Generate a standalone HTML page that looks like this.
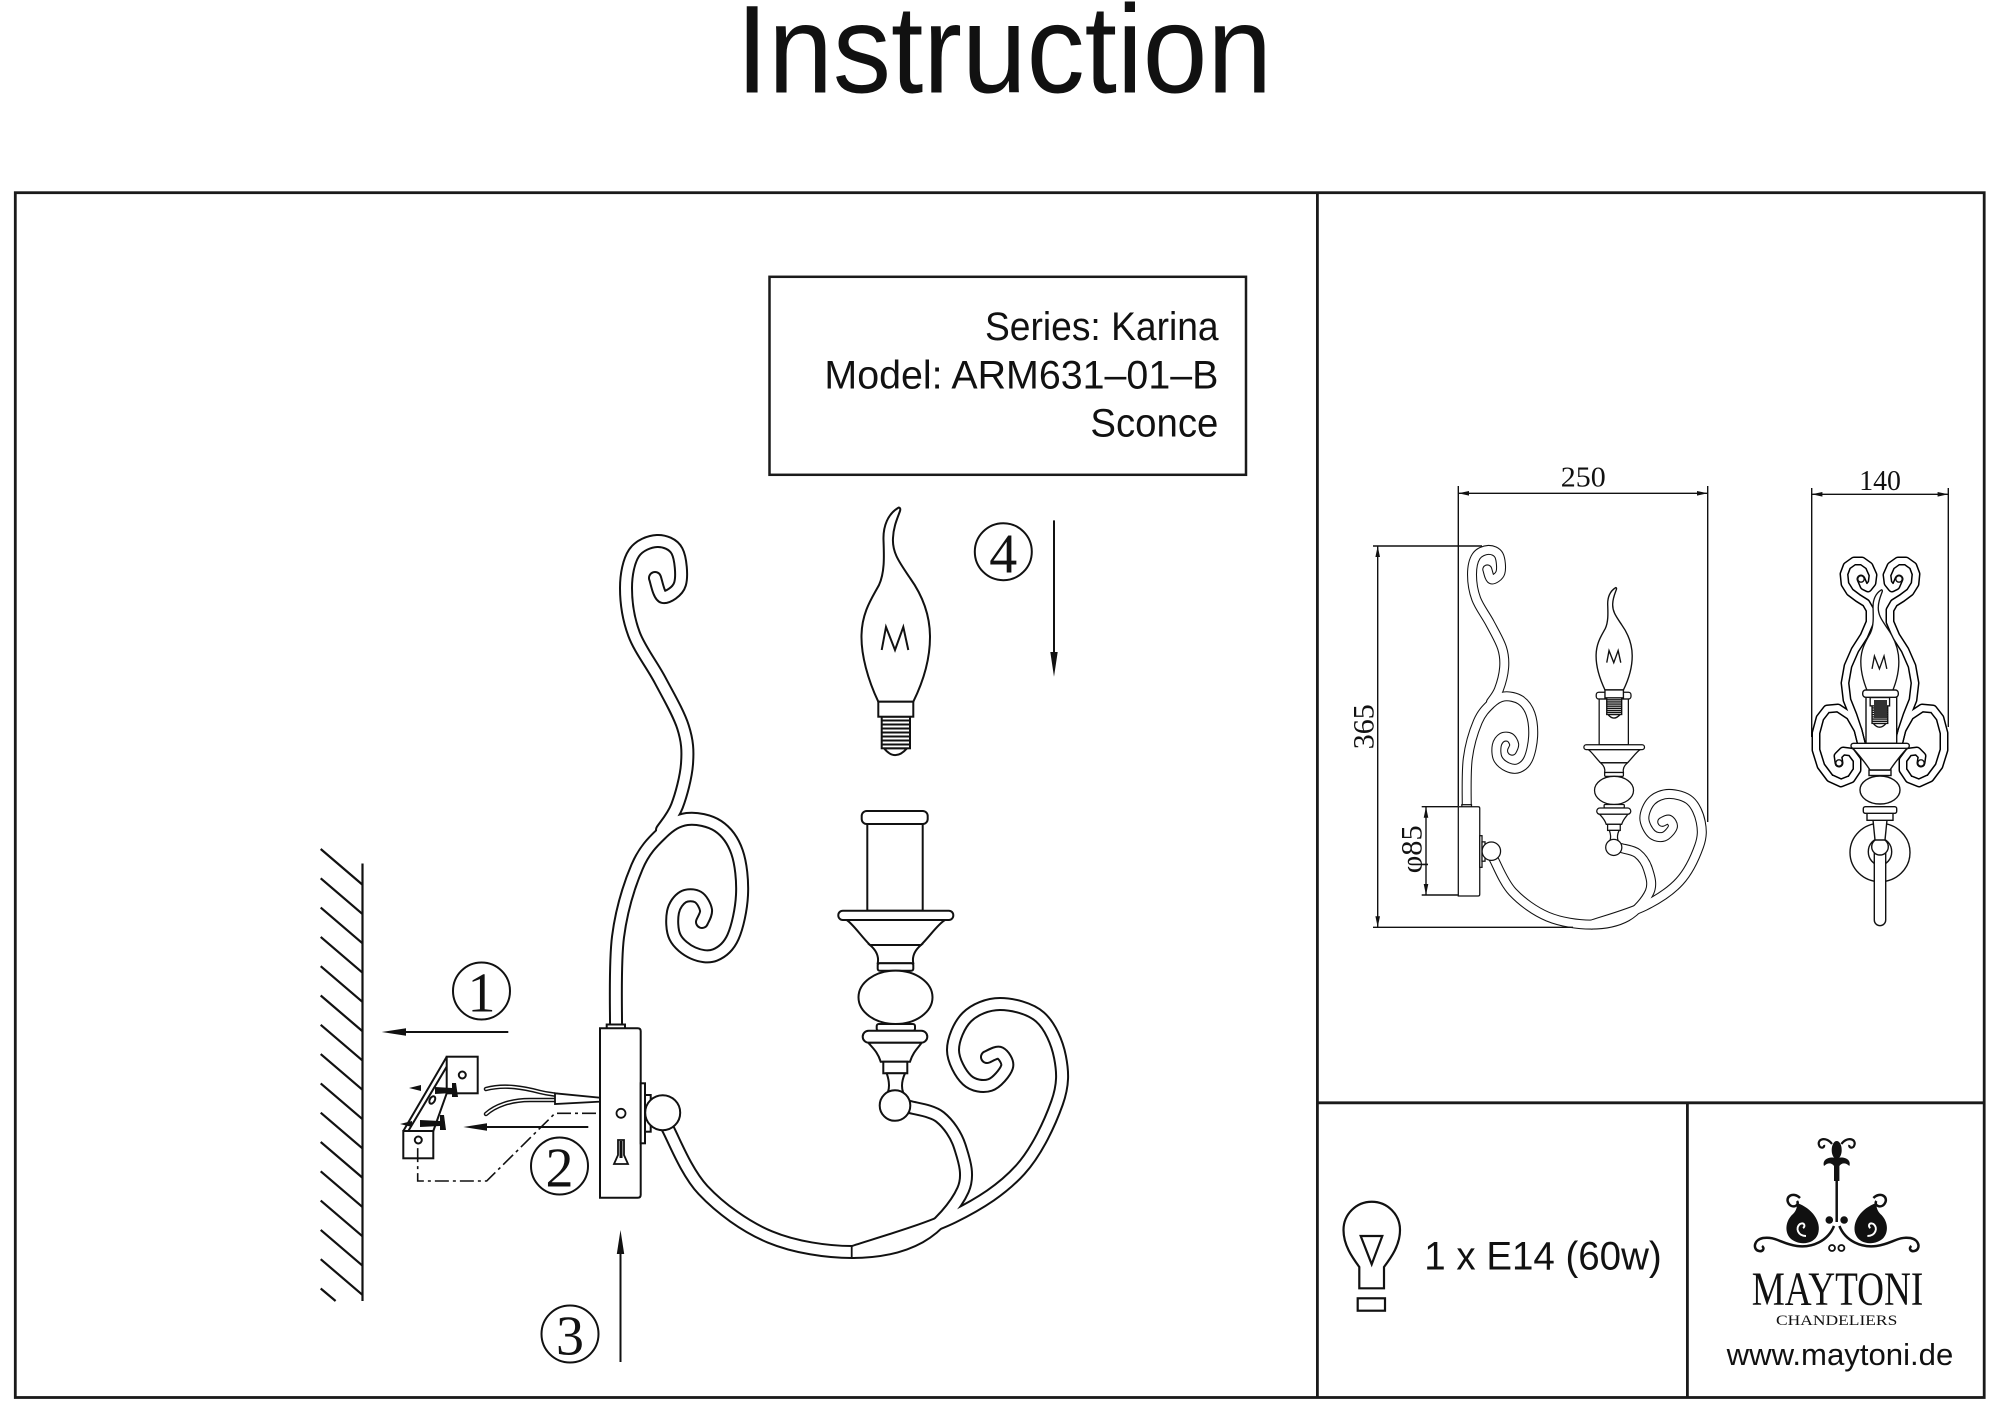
<!DOCTYPE html>
<html><head><meta charset="utf-8"><style>
html,body{margin:0;padding:0;background:#fff;}
svg{display:block;}
text{font-family:"Liberation Sans",Arial,sans-serif;fill:#111;}
.sf{font-family:"Liberation Serif","Times New Roman",serif;}
</style></head><body>
<svg width="2000" height="1414" viewBox="0 0 2000 1414" xmlns="http://www.w3.org/2000/svg">
<defs>
<path id="pA" d="M655,578 C656.3,581.2 658.8,596 663,597 C667.2,598 677.7,591.7 680,584 C682.3,576.3 680.8,558.2 677,551 C673.2,543.8 664.2,540.7 657,541 C649.8,541.3 639.2,545.2 634,553 C628.8,560.8 626,574.5 626,588 C626,601.5 628.3,618.7 634,634 C639.7,649.3 651.8,664.5 660,680 C668.2,695.5 678.5,713 683,727 C687.5,741 688,750.8 687,764 C686,777.2 681.2,795 677,806 C672.8,817 664.5,826 662,830"/>
<path id="pB" d="M616,1030 C616.3,1014.5 614.5,964.2 618,937 C621.5,909.8 629.7,884.3 637,867 C644.3,849.7 653.7,841 662,833 C670.3,825 677.7,820.2 687,819 C696.3,817.8 709.7,820.5 718,826 C726.3,831.5 733,840.5 737,852 C741,863.5 742.7,880.8 742,895 C741.3,909.2 737.5,927 733,937 C728.5,947 721.7,952.3 715,955 C708.3,957.7 699.7,956 693,953 C686.3,950 678.3,943.8 675,937 C671.7,930.2 671.7,918.7 673,912 C674.3,905.3 678.8,899.5 683,897 C687.2,894.5 694.2,894.8 698,897 C701.8,899.2 705.3,905.8 706,910 C706.7,914.2 702.7,920 702,922"/>
<path id="pC" d="M667,1127 C673,1137.5 685.8,1171.7 703,1190 C720.2,1208.3 745.2,1226.7 770,1237 C794.8,1247.3 827,1252 852,1252 C877,1252 901.5,1247.3 920,1237 C938.5,1226.7 956.3,1205 963,1190 C969.7,1175 963.8,1159.2 960,1147 C956.2,1134.8 948.3,1123.7 940,1117 C931.7,1110.3 915,1108.7 910,1107"/>
<path id="pD" d="M853,1252 C869.7,1246.2 925.2,1230.7 953,1217 C980.8,1203.3 1002.7,1189 1020,1170 C1037.3,1151 1050.3,1121.8 1057,1103 C1063.7,1084.2 1062.8,1071.3 1060,1057 C1057.2,1042.7 1050,1025.8 1040,1017 C1030,1008.2 1012.2,1004 1000,1004 C987.8,1004 974.8,1009.3 967,1017 C959.2,1024.7 953,1039.5 953,1050 C953,1060.5 960.8,1074.2 967,1080 C973.2,1085.8 983.3,1087.2 990,1085 C996.7,1082.8 1005.3,1072.3 1007,1067 C1008.7,1061.7 1003.3,1054.7 1000,1053 C996.7,1051.3 989.2,1056.3 987,1057"/>
<g id="canopy" fill="#fff">
<rect x="606.7" y="1024.5" width="18.3" height="4.5"/>
<path d="M600,1028.3 H637.7 Q640.7,1028.3 640.7,1031.3 V1194.7 Q640.7,1197.7 637.7,1197.7 H600 Z"/>
<rect x="640.7" y="1083.3" width="4.3" height="60"/>
<rect x="645" y="1095" width="5.7" height="36.7"/>
<circle cx="662.7" cy="1112.7" r="17.5"/>
</g>
<g id="candle" fill="#fff">
<rect x="861.7" y="811" width="66" height="13" rx="5"/>
<rect x="867.3" y="824" width="55.4" height="86.7"/>
<path d="M846.7,920 L945,920 C938,924 930,936 921,945 L870,945 C861,936 853,924 846.7,920 Z"/>
<rect x="838.3" y="910.7" width="115" height="9.3" rx="4.5"/>
<path d="M870,945 L921,945 C914,951 912,957 913.3,963.3 L877.7,963.3 C879,957 877,951 870,945 Z"/>
<rect x="877.7" y="963.3" width="35.6" height="7.4" rx="2"/>
<ellipse cx="895.5" cy="997.3" rx="37" ry="26.7"/>
<rect x="876.7" y="1024" width="38.3" height="6.7" rx="2"/>
<rect x="862.7" y="1030.7" width="64.6" height="12" rx="6"/>
<path d="M868.3,1042.7 L921.7,1042.7 C918,1048 913,1052 910,1061.7 L880.7,1061.7 C877.7,1052 872.7,1048 868.3,1042.7 Z"/>
<rect x="883.3" y="1061.7" width="24" height="11.6"/>
<path d="M886.7,1073.3 L905,1073.3 C902,1080 901,1086 903,1092 L888,1092 C890,1086 889,1080 886.7,1073.3 Z"/>
<circle cx="895" cy="1105.5" r="15.3"/>
</g>
<g id="bulb" fill="#fff">
<path d="M898,508 C888,514 883,526 883.5,540 C884,555 885,572 879,585 C872,598 862,612 861.5,635 C861,655 868,680 878.3,701.7 L913.3,701.7 C923,682 930,660 930,637 C930,612 920,592 910,578 C900,563 892,553 893,538 C893.5,526 898,517 900,511 C901,508 899,507 898,508 Z"/>
<polyline fill="none" points="881.7,650 886,627 895,650 903.3,627 908.3,650"/>
<path d="M884,748.3 Q895,762 907,748.3 Z"/>
<rect x="881.7" y="716.7" width="28.3" height="31.6"/>
<path fill="none" d="M881.7,720.5H910M881.7,724.5H910M881.7,728.5H910M881.7,732.5H910M881.7,736.5H910M881.7,740.5H910M881.7,744.5H910"/>
<rect x="878.3" y="701.7" width="35" height="15"/>
</g>
<g id="lyre" fill="none" stroke-linecap="round" stroke-linejoin="round">
<g stroke="#000" stroke-width="9">
<polyline points="1861,579 1864,586 1868,588 1872,583 1873,575 1869,566 1862,561 1854,561 1847,566 1844,574 1845,584 1850,592 1858,598 1866,603 1870,610 1870,622 1864,636 1855,650 1848,666 1845,683 1847,700 1853,715 1858,730 1862,746"/>
<polyline points="1862,746 1858,730 1850,716 1838,708 1827,709 1820,718 1816,733 1816,750 1821,766 1830,778 1841,783 1851,779 1857,770 1857,760 1851,752 1843,751 1838,756 1839,763"/>
</g>
<g stroke="#fff" stroke-width="6">
<polyline points="1861,579 1864,586 1868,588 1872,583 1873,575 1869,566 1862,561 1854,561 1847,566 1844,574 1845,584 1850,592 1858,598 1866,603 1870,610 1870,622 1864,636 1855,650 1848,666 1845,683 1847,700 1853,715 1858,730 1862,746"/>
<polyline points="1862,746 1858,730 1850,716 1838,708 1827,709 1820,718 1816,733 1816,750 1821,766 1830,778 1841,783 1851,779 1857,770 1857,760 1851,752 1843,751 1838,756 1839,763"/>
</g>
</g>
<g id="paisley">
<path fill="none" stroke="#111" stroke-width="2.5" d="M1800,1198 C1793,1191 1784,1197 1789,1204 C1793,1209 1800,1205 1797,1201"/>
<path fill="#111" d="M1797,1203 C1812,1208 1822,1222 1818,1234 C1814,1245 1798,1246 1790,1238 C1784,1231 1786,1220 1793,1214 C1797,1210 1797,1206 1797,1203 Z"/>
<path fill="none" stroke="#fff" stroke-width="2" d="M1806,1236 C1798,1236 1795,1228 1800,1224 C1804,1222 1806,1226 1803,1228"/>
<path fill="none" stroke="#111" stroke-width="2.5" d="M1834,1226 C1828,1241 1812,1248 1797,1246 C1782,1244 1775,1236 1763,1238 C1753,1240 1753,1250 1759,1251 C1763,1252 1765,1248 1762,1246"/>
<path fill="none" stroke="#111" stroke-width="2.2" d="M1832,1144 C1826,1136 1817,1139 1819,1145 C1820,1149 1825,1148 1824,1145"/>
<circle cx="1829.3" cy="1220" r="3.8" fill="#111"/>
<circle cx="1832" cy="1248" r="3" fill="none" stroke="#111" stroke-width="1.8"/>
</g>
</defs>

<rect width="2000" height="1414" fill="#fff"/>

<!-- Title -->
<text x="736" y="92.5" font-size="125" textLength="536" lengthAdjust="spacingAndGlyphs">Instruction</text>

<!-- Frame -->
<g fill="none" stroke="#1a1a1a" stroke-width="2.8">
<rect x="15.3" y="192.7" width="1968.9" height="1204.8"/>
<line x1="1317.4" y1="192.7" x2="1317.4" y2="1397.5"/>
<line x1="1317.4" y1="1102.8" x2="1984.2" y2="1102.8"/>
<line x1="1687.4" y1="1102.8" x2="1687.4" y2="1397.5"/>
</g>

<!-- Series box -->
<rect x="769.5" y="276.8" width="476.5" height="198" fill="none" stroke="#1a1a1a" stroke-width="2.5"/>
<text x="985" y="340" font-size="39.5" textLength="233.6" lengthAdjust="spacingAndGlyphs">Series: Karina</text>
<text x="824.4" y="388.3" font-size="39.5" textLength="394" lengthAdjust="spacingAndGlyphs">Model: ARM631–01–B</text>
<text x="1090.4" y="436.7" font-size="39.5" textLength="128" lengthAdjust="spacingAndGlyphs">Sconce</text>

<!-- Wall -->
<g stroke="#111" stroke-width="2.2" fill="none">
<line x1="362.5" y1="863.5" x2="362.5" y2="1301"/>
<line x1="320.7" y1="849" x2="362.2" y2="884.5"/>
<line x1="320.7" y1="878.3" x2="362.2" y2="913.8"/>
<line x1="320.7" y1="907.6" x2="362.2" y2="943.1"/>
<line x1="320.7" y1="936.9" x2="362.2" y2="972.4"/>
<line x1="320.7" y1="966.2" x2="362.2" y2="1001.7"/>
<line x1="320.7" y1="995.5" x2="362.2" y2="1031"/>
<line x1="320.7" y1="1024.8" x2="362.2" y2="1060.3"/>
<line x1="320.7" y1="1054.1" x2="362.2" y2="1089.6"/>
<line x1="320.7" y1="1083.4" x2="362.2" y2="1118.9"/>
<line x1="320.7" y1="1112.7" x2="362.2" y2="1148.2"/>
<line x1="320.7" y1="1142" x2="362.2" y2="1177.5"/>
<line x1="320.7" y1="1171.3" x2="362.2" y2="1206.8"/>
<line x1="320.7" y1="1200.6" x2="362.2" y2="1236.1"/>
<line x1="320.7" y1="1229.9" x2="362.2" y2="1265.4"/>
<line x1="320.7" y1="1259.2" x2="362.2" y2="1294.7"/>
<line x1="320.7" y1="1288.5" x2="335.6" y2="1301"/>
</g>

<!-- Arrows and step numbers -->
<g stroke="#111" stroke-width="2" fill="none">
<line x1="406" y1="1032" x2="508.3" y2="1032"/>
<line x1="487" y1="1127" x2="588.3" y2="1127"/>
<line x1="620.5" y1="1254" x2="620.5" y2="1362"/>
<line x1="1054" y1="520.4" x2="1054" y2="652"/>
<circle cx="481.5" cy="991" r="28.5"/>
<circle cx="559.5" cy="1166" r="28.5"/>
<circle cx="570" cy="1334" r="28.5"/>
<circle cx="1003.3" cy="551.7" r="28.5"/>
</g>
<g fill="#111">
<polygon points="381.7,1032 406,1028.3 406,1035.7"/>
<polygon points="463.3,1127 487,1123.3 487,1130.7"/>
<polygon points="620.5,1230 616.8,1254 624.2,1254"/>
<polygon points="1054,676.7 1050.3,652 1057.7,652"/>
</g>
<g class="sf" font-size="56" text-anchor="middle">
<text class="sf" x="481.5" y="1011.7">1</text>
<text class="sf" x="559.5" y="1186.7">2</text>
<text class="sf" x="570" y="1354.7">3</text>
<text class="sf" x="1003.3" y="572.4">4</text>
</g>

<!-- Bracket -->
<g stroke="#111" stroke-width="2" fill="#fff">
<line x1="446.7" y1="1056.7" x2="403.3" y2="1131"/>
<line x1="451.7" y1="1058.3" x2="408.3" y2="1131"/>
<line x1="446.7" y1="1093.3" x2="433.3" y2="1131"/>
<rect x="446.7" y="1056.7" width="31" height="36.6"/>
<rect x="403.3" y="1131" width="30" height="27.3"/>
<circle cx="462.3" cy="1075" r="3.5"/>
<circle cx="418.3" cy="1140" r="3.5"/>
<ellipse cx="432.3" cy="1100" rx="2.5" ry="4" transform="rotate(30 432.3 1100)"/>
</g>
<g fill="#111">
<path d="M435,1087 L452,1088 L452,1093 L435,1094 Z"/>
<path d="M452,1083 L456,1083 L458,1097 L452,1097 Z"/>
<path d="M420,1120 L440,1121 L440,1126 L420,1127 Z"/>
<path d="M440,1115 L444,1115 L446,1130 L440,1130 Z"/>
<polygon points="409,1088 421,1085 421,1091"/>
<polygon points="400,1124 412,1121 412,1127"/>
</g>
<!-- dash-dot guide -->
<path d="M621,1113.3 H555 L486.7,1181 H417.7 V1144" fill="none" stroke="#111" stroke-width="1.6" stroke-dasharray="14 4 3 4"/>
<path d="M621,1118 V1140" fill="none" stroke="#111" stroke-width="1.6" stroke-dasharray="6 3 2 3"/>
<!-- wires -->
<g fill="none" stroke-linecap="round">
<path d="M486,1089 C505,1084 525,1088 540,1092 C548,1094 552,1094 557,1095" stroke="#111" stroke-width="4.5"/>
<path d="M486,1114 C495,1106 510,1100 530,1100 C542,1100 550,1100 557,1100" stroke="#111" stroke-width="4.5"/>
<path d="M486,1089 C505,1084 525,1088 540,1092 C548,1094 552,1094 557,1095" stroke="#fff" stroke-width="1.6"/>
<path d="M486,1114 C495,1106 510,1100 530,1100 C542,1100 550,1100 557,1100" stroke="#fff" stroke-width="1.6"/>
</g>
<path d="M555,1093.3 L600,1097.7 L600,1101.7 L555,1104 Z" fill="#fff" stroke="#111" stroke-width="1.8"/>

<!-- Main sconce tubes -->
<g fill="none" stroke-linecap="round" stroke-linejoin="round">
<g stroke="#111" stroke-width="14"><use href="#pA"/><use href="#pB"/><use href="#pC"/><use href="#pD"/></g>
<g stroke="#fff" stroke-width="10"><use href="#pA"/><use href="#pB"/><use href="#pC"/><use href="#pD"/></g>
</g>
<line x1="851.7" y1="1245.5" x2="851.7" y2="1258.5" stroke="#111" stroke-width="1.8"/>
<use href="#canopy" stroke="#111" stroke-width="2"/>
<circle cx="621" cy="1113.3" r="4.5" fill="#fff" stroke="#111" stroke-width="1.8"/>
<path d="M618,1140 L624,1140 L624,1155 L628,1164 L614,1164 L618,1155 Z" fill="#fff" stroke="#111" stroke-width="1.8"/>
<path d="M621,1141 V1158" stroke="#111" stroke-width="3"/>
<use href="#candle" stroke="#111" stroke-width="2"/>
<use href="#bulb" stroke="#111" stroke-width="2"/>

<!-- Side view with dimensions -->
<g transform="matrix(0.527 0 0 0.527 1142.1 264.8)">
<g fill="none" stroke-linecap="round" stroke-linejoin="round">
<g stroke="#111" stroke-width="19"><use href="#pA"/><use href="#pB"/><use href="#pC"/><use href="#pD"/></g>
<g stroke="#fff" stroke-width="15"><use href="#pA"/><use href="#pB"/><use href="#pC"/><use href="#pD"/></g>
</g>
<use href="#canopy" stroke="#111" stroke-width="2.4"/>
<use href="#candle" stroke="#111" stroke-width="2.4"/>
<use href="#bulb" stroke="#111" stroke-width="2.6" transform="translate(0,105)"/>
</g>
<g stroke="#111" stroke-width="1.4" fill="none">
<line x1="1458.3" y1="486" x2="1458.3" y2="806"/>
<line x1="1707.7" y1="486" x2="1707.7" y2="822"/>
<line x1="1458.3" y1="493.3" x2="1707.7" y2="493.3"/>
<line x1="1373" y1="546" x2="1482" y2="546"/>
<line x1="1373" y1="927.3" x2="1573" y2="927.3"/>
<line x1="1377.7" y1="546" x2="1377.7" y2="927.3"/>
<line x1="1421.7" y1="806.7" x2="1458" y2="806.7"/>
<line x1="1421.7" y1="895" x2="1458" y2="895"/>
<line x1="1426" y1="806.7" x2="1426" y2="895"/>
<line x1="1811.7" y1="488" x2="1811.7" y2="737"/>
<line x1="1948.3" y1="488" x2="1948.3" y2="727"/>
<line x1="1811.7" y1="494.3" x2="1948.3" y2="494.3"/>
</g>
<g fill="#111">
<polygon points="1458.3,493.3 1469,491 1469,495.6"/>
<polygon points="1707.7,493.3 1697,491 1697,495.6"/>
<polygon points="1377.7,546 1375.4,557 1380,557"/>
<polygon points="1377.7,927.3 1375.4,916.3 1380,916.3"/>
<polygon points="1426,806.7 1423.7,817.7 1428.3,817.7"/>
<polygon points="1426,895 1423.7,884 1428.3,884"/>
<polygon points="1811.7,494.3 1822.4,492 1822.4,496.6"/>
<polygon points="1948.3,494.3 1937.6,492 1937.6,496.6"/>
</g>
<text class="sf" x="1560.8" y="486.7" font-size="29" textLength="45" lengthAdjust="spacingAndGlyphs">250</text>
<text class="sf" x="1859.2" y="490" font-size="29" textLength="41.7" lengthAdjust="spacingAndGlyphs">140</text>
<text class="sf" transform="translate(1373.3,749.2) rotate(-90)" x="0" y="0" font-size="30" textLength="45" lengthAdjust="spacingAndGlyphs">365</text>
<text class="sf" transform="translate(1421.7,873.3) rotate(-90)" x="0" y="0" font-size="30" textLength="48" lengthAdjust="spacingAndGlyphs">φ85</text>

<!-- Front view -->
<use href="#lyre"/>
<use href="#lyre" transform="translate(3760,0) scale(-1,1)"/>
<g fill="#fff" stroke="#111" stroke-width="1.4">
<circle cx="1861" cy="579" r="3.2"/>
<circle cx="1899" cy="579" r="3.2"/>
<circle cx="1839" cy="763" r="3.2"/>
<circle cx="1921" cy="763" r="3.2"/>
<ellipse cx="1880" cy="852.5" rx="30" ry="29.2"/>
<ellipse cx="1880" cy="851.7" rx="11.7" ry="13.3"/>
<path d="M1874.3,853 H1885.7 V920 A5.7,5.7 0 0 1 1874.3,920 Z"/>
<circle cx="1880" cy="846.7" r="8.3"/>
<path d="M1873,820 H1887 L1885,840 H1875 Z"/>
<rect x="1867" y="813.3" width="26" height="7"/>
<rect x="1863.3" y="806.7" width="33.4" height="6.6" rx="2"/>
<ellipse cx="1880" cy="790" rx="20" ry="14"/>
<rect x="1869" y="770" width="22" height="5.5"/>
<path d="M1853,748.3 H1907 C1900,756 1894,764 1890,770 H1870 C1866,764 1860,756 1853,748.3 Z"/>
<rect x="1866" y="697" width="30.7" height="46.3"/>
<rect x="1851" y="743.3" width="58.3" height="5" rx="2.5"/>
</g>
<use href="#bulb" stroke="#111" stroke-width="2.4" transform="matrix(0.555 0 0 0.555 1382.7 308.1)"/>
<rect x="1874" y="700" width="13" height="18" fill="#333"/>
<rect x="1862.7" y="690" width="35.6" height="7.3" rx="3" fill="#fff" stroke="#111" stroke-width="1.4"/>

<!-- Bulb spec -->
<g fill="none" stroke="#111" stroke-width="2.2">
<path d="M1359.3,1288.3 L1359.3,1267 C1352,1257 1343.5,1245 1343.5,1230 A28.25,28.25 0 1 1 1400,1230 C1400,1245 1391.5,1257 1384,1267 L1384,1288.3 Z"/>
<polygon points="1360.7,1236 1382.3,1236 1371.7,1264.3"/>
<rect x="1357.7" y="1298.3" width="27.3" height="12.4"/>
</g>
<text x="1424.3" y="1269.3" font-size="39.5" textLength="237.4" lengthAdjust="spacingAndGlyphs">1 x E14 (60w)</text>

<!-- Logo -->
<line x1="1836.7" y1="1170" x2="1836.7" y2="1222" stroke="#111" stroke-width="2.5"/>
<ellipse cx="1836.7" cy="1150" rx="5" ry="9" fill="#111"/>
<path fill="#111" d="M1836.7,1158 C1828,1156 1822,1160 1824,1166 C1828,1162 1832,1163 1834,1166 L1834,1181 L1839.4,1181 L1839.4,1166 C1841.4,1163 1845.4,1162 1849.4,1166 C1851.4,1160 1845.4,1156 1836.7,1158 Z"/>
<use href="#paisley"/>
<use href="#paisley" transform="translate(3673.4,0) scale(-1,1)"/>
<text class="sf" x="1751.7" y="1305" font-size="48" textLength="171.6" lengthAdjust="spacingAndGlyphs">MAYTONI</text>
<text class="sf" x="1776" y="1325" font-size="15" textLength="121.3" lengthAdjust="spacingAndGlyphs">CHANDELIERS</text>
<text x="1726.7" y="1365" font-size="31" textLength="226.6" lengthAdjust="spacingAndGlyphs">www.maytoni.de</text>
</svg>
</body></html>
